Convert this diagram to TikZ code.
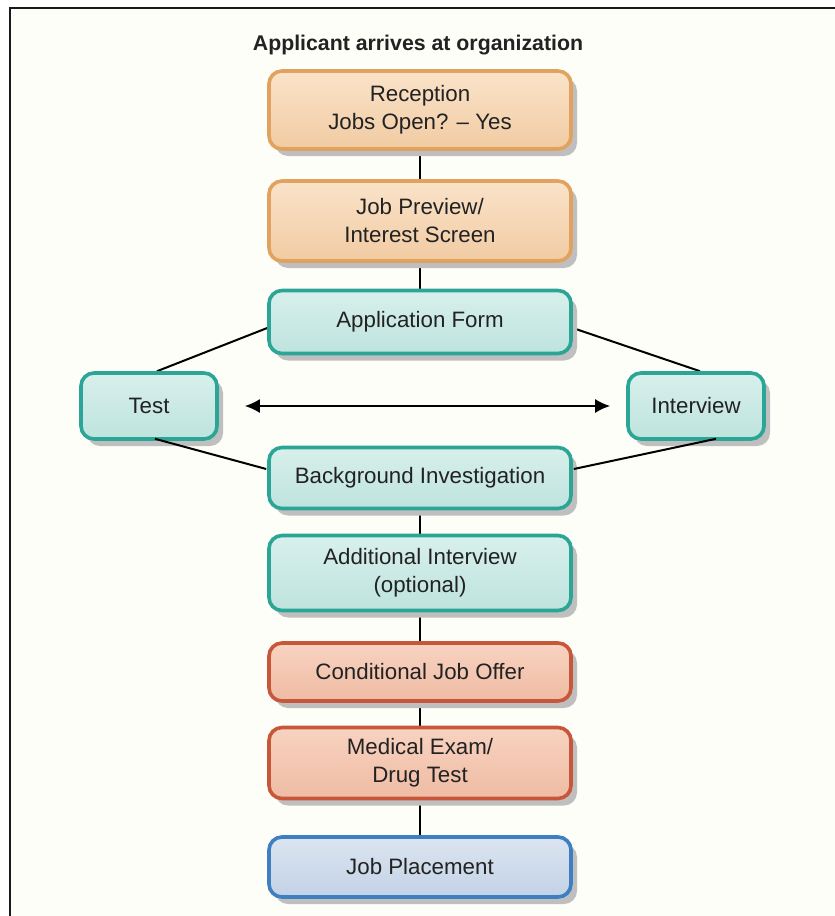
\documentclass[tikz,border=0pt]{standalone}
\usepackage{fontspec}
\setmainfont{Liberation Sans}
\usetikzlibrary{shadows,backgrounds,arrows.meta,calc}
\definecolor{frameblack}{HTML}{1A1A1A}
\definecolor{paper}{HTML}{FEFEF9}
\definecolor{orbord}{HTML}{E0A25E}
\definecolor{ortop}{HTML}{FAE3C9}
\definecolor{orbot}{HTML}{F1CBA3}
\definecolor{tlbord}{HTML}{2AA596}
\definecolor{tltop}{HTML}{D8F0EC}
\definecolor{tlbot}{HTML}{BEE3DD}
\definecolor{rdbord}{HTML}{C8563A}
\definecolor{rdtop}{HTML}{F8D3C1}
\definecolor{rdbot}{HTML}{EFBBA3}
\definecolor{blbord}{HTML}{3E7FC1}
\definecolor{bltop}{HTML}{DCE5F0}
\definecolor{blbot}{HTML}{C2D2E6}
\definecolor{txt}{HTML}{222222}
\tikzset{
  boxbase/.style={rounded corners=13pt, line width=3.6pt, align=center,
    font=\fontsize{22.3}{28}\selectfont, text=txt, inner sep=0pt,
    drop shadow={shadow xshift=6pt, shadow yshift=-7pt, fill=black!25, opacity=1}},
  orbox/.style={boxbase, draw=orbord, top color=ortop, bottom color=orbot},
  tlbox/.style={boxbase, draw=tlbord, top color=tltop, bottom color=tlbot},
  rdbox/.style={boxbase, draw=rdbord, top color=rdtop, bottom color=rdbot},
  blbox/.style={boxbase, draw=blbord, top color=bltop, bottom color=blbot},
  main/.style={minimum width=302pt},
  side/.style={minimum width=136pt, minimum height=66pt},
  conn/.style={draw=black, line width=2pt},
}
\begin{document}
\begin{tikzpicture}[x=1pt,y=-1pt]
\useasboundingbox (0,0) rectangle (835,916);
\begin{pgfonlayer}{background}
\fill[white] (0,0) rectangle (835,916);
\fill[paper] (10,8) rectangle (835,916);
\draw[frameblack, line width=2.5pt] (10,916) -- (10,8) -- (835,8);
\end{pgfonlayer}

\node[font=\bfseries\fontsize{21.3}{26}\selectfont, text=txt] (title) at (418,45) {Applicant arrives at organization};

\node[orbox, main, minimum height=78pt] (rec) at (420,110) {Reception\\Jobs Open? -- Yes};
\node[orbox, main, minimum height=80pt] (jp) at (420,221) {Job Preview/\\Interest Screen};
\node[tlbox, main, minimum height=63pt] (app) at (420,322) {Application Form};
\node[tlbox, side] (test) at (149,406) {Test};
\node[tlbox, side] (intv) at (696,406) {Interview};
\node[tlbox, main, minimum height=61pt] (bg) at (420,478) {Background Investigation};
\node[tlbox, main, minimum height=75pt] (add) at (420,573) {Additional Interview\\(optional)};
\node[rdbox, main, minimum height=58pt] (cjo) at (420,672) {Conditional Job Offer};
\node[rdbox, main, minimum height=71pt] (med) at (420,763) {Medical Exam/\\Drug Test};
\node[blbox, main, minimum height=60pt] (jpl) at (420,867) {Job Placement};

\begin{pgfonlayer}{background}
\draw[conn] (rec.south) -- (jp.north);
\draw[conn] (jp.south) -- (app.north);
\draw[conn] (bg.south) -- (add.north);
\draw[conn] (add.south) -- (cjo.north);
\draw[conn] (cjo.south) -- (med.north);
\draw[conn] (med.south) -- (jpl.north);
\draw[conn] ($(app.west)+(0,6)$) -- ($(test.north)+(8,0)$);
\draw[conn] ($(app.east)+(0,6)$) -- ($(intv.north)+(4,0)$);
\end{pgfonlayer}
\draw[conn] ($(test.south)+(6,-2)$) -- ($(bg.west)+(-1,-9)$);
\draw[conn] ($(intv.south)+(20,-2)$) -- ($(bg.east)+(1,-9)$);
\draw[conn, {Latex[length=15pt,width=14pt]}-{Latex[length=15pt,width=14pt]}, shorten <=26pt, shorten >=16pt] (test.east) -- (intv.west);
\end{tikzpicture}
\end{document}
